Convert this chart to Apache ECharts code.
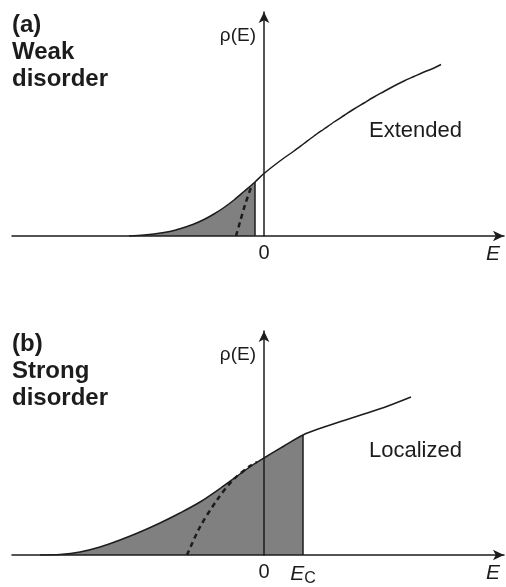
<!DOCTYPE html>
<html>
<head>
<meta charset="utf-8">
<script src="https://cdn.jsdelivr.net/npm/echarts@6/dist/echarts.min.js"></script>
<style>
  html, body { margin: 0; padding: 0; background: #fff; }
  #chart { width: 506px; height: 587px; }
</style>
</head>
<body>
<div id="chart"></div>
<script>
// Density of states rho(E): weak disorder (a) and strong disorder (b)
const weakCurve = [
  [-2.7, 0], [-2.4, 0.02], [-2.2, 0.04], [-2.0, 0.07], [-1.8, 0.11], [-1.6, 0.17],
  [-1.4, 0.24], [-1.2, 0.33], [-1.0, 0.44], [-0.8, 0.57], [-0.6, 0.72], [-0.4, 0.89],
  [-0.18, 1.08], [0, 1.25], [0.2, 1.41], [0.4, 1.56], [0.6, 1.70], [0.8, 1.85],
  [1.0, 2.00], [1.2, 2.14], [1.4, 2.28], [1.6, 2.41], [1.8, 2.54], [2.0, 2.66],
  [2.2, 2.78], [2.4, 2.89], [2.6, 3.00], [2.8, 3.10], [3.0, 3.19], [3.2, 3.28],
  [3.4, 3.36], [3.54, 3.43]
];
const weakDashed = [[-0.56, 0], [-0.48, 0.28], [-0.38, 0.62], [-0.24, 1.03]];
const weakEdge = -0.18;

const strongCurve = [
  [-4.48, 0], [-4.08, 0.01], [-3.68, 0.06], [-3.28, 0.16], [-2.88, 0.30],
  [-2.48, 0.46], [-2.08, 0.64], [-1.68, 0.84], [-1.28, 1.06], [-0.88, 1.33],
  [-0.48, 1.62], [-0.24, 1.79], [0, 1.94], [0.4, 2.18], [0.78, 2.40],
  [1.2, 2.56], [1.6, 2.69], [2.0, 2.82], [2.4, 2.95], [2.94, 3.16]
];
const strongDashed = [[-1.54, 0], [-1.28, 0.56], [-0.94, 1.10], [-0.62, 1.50], [-0.28, 1.78], [-0.14, 1.86]];
const strongEdge = 0.78; // mobility edge E_C

const panelTitles = ['(a)\nWeak\ndisorder', '(b)\nStrong\ndisorder'];
const regionLabels = ['Extended', 'Localized'];
const tickValues = [[0], [0, strongEdge]];

const INK = '#1c1c1c';
const FILL = '#808080';
const FONT = '"Liberation Sans", Arial, Helvetica, sans-serif';

function valueAt(curve, x) {
  const p = curve.find(d => d[0] === x);
  return p ? p[1] : 0;
}

const panels = [
  { curve: weakCurve, dashed: weakDashed, edge: weakEdge, top: 12 },
  { curve: strongCurve, dashed: strongDashed, edge: strongEdge, top: 331 }
];

const grid = [], xAxis = [], yAxis = [], series = [], title = [];

panels.forEach((p, i) => {
  grid.push({ left: 12, right: 2, top: p.top, height: 224 });
  xAxis.push({
    type: 'value', gridIndex: i, min: -5.04, max: 4.8, z: 5,
    axisLine: { onZero: false, lineStyle: { color: INK, width: 1.5 }, symbol: ['none', 'arrow'], symbolSize: [8, 11] },
    axisTick: { show: false },
    splitLine: { show: false },
    axisLabel: {
      customValues: tickValues[i], margin: 7, color: INK, fontFamily: FONT, fontSize: 20,
      formatter: v => v === 0 ? '0' : '{e|E}{c|C}',
      rich: {
        e: { fontStyle: 'italic', fontSize: 21, fontFamily: FONT, color: INK },
        c: { fontSize: 16, fontFamily: FONT, color: INK, verticalAlign: 'bottom', padding: [9, 0, 0, 0] }
      }
    },
    name: 'E', nameLocation: 'end', nameGap: -11,
    nameTextStyle: { fontStyle: 'italic', fontSize: 21, fontFamily: FONT, color: INK, align: 'center', verticalAlign: 'top', padding: [8, 0, 0, 0] }
  });
  yAxis.push({
    type: 'value', gridIndex: i, min: 0, max: 4.48, z: 5,
    axisLine: { onZero: true, lineStyle: { color: INK, width: 1.5 }, symbol: ['none', 'arrow'], symbolSize: [8, 11] },
    axisTick: { show: false }, axisLabel: { show: false }, splitLine: { show: false },
    name: 'ρ(E)', nameLocation: 'end', nameGap: -24,
    nameTextStyle: { fontSize: 19, fontFamily: FONT, color: INK, align: 'right', verticalAlign: 'middle', padding: [0, 8, 0, 0] }
  });

  // shaded states below the edge, bounded on the right by a vertical line
  const filled = p.curve.filter(d => d[0] <= p.edge);
  series.push({
    type: 'line', xAxisIndex: i, yAxisIndex: i, data: filled, smooth: 0.3,
    showSymbol: false, lineStyle: { width: 0 }, areaStyle: { color: FILL, opacity: 1 }, z: 2, silent: true
  });
  series.push({
    type: 'line', xAxisIndex: i, yAxisIndex: i, data: [[p.edge, 0], [p.edge, valueAt(p.curve, p.edge)]],
    showSymbol: false, lineStyle: { color: INK, width: 1.5 }, z: 3, silent: true
  });
  series.push({
    type: 'line', xAxisIndex: i, yAxisIndex: i, data: p.dashed, smooth: 0.3,
    showSymbol: false, lineStyle: { color: INK, width: 2.5, type: [5, 4] }, z: 4, silent: true
  });
  series.push({
    type: 'line', xAxisIndex: i, yAxisIndex: i, data: p.curve, smooth: 0.3,
    showSymbol: false, lineStyle: { color: INK, width: 1.5 }, z: 4, silent: true
  });

  title.push({
    text: panelTitles[i], left: 12, top: p.top, padding: 0,
    textStyle: { fontFamily: FONT, fontWeight: 'bold', fontSize: 24, lineHeight: 27, color: INK }
  });
  title.push({
    text: regionLabels[i], left: 369, top: p.top + (i === 0 ? 108 : 109), padding: 0,
    textStyle: { fontFamily: FONT, fontWeight: 'normal', fontSize: 22, color: INK }
  });
});

const chart = echarts.init(document.getElementById('chart'), null, { renderer: 'canvas' });
chart.setOption({ animation: false, backgroundColor: '#fff', title, grid, xAxis, yAxis, series });
</script>
</body>
</html>
